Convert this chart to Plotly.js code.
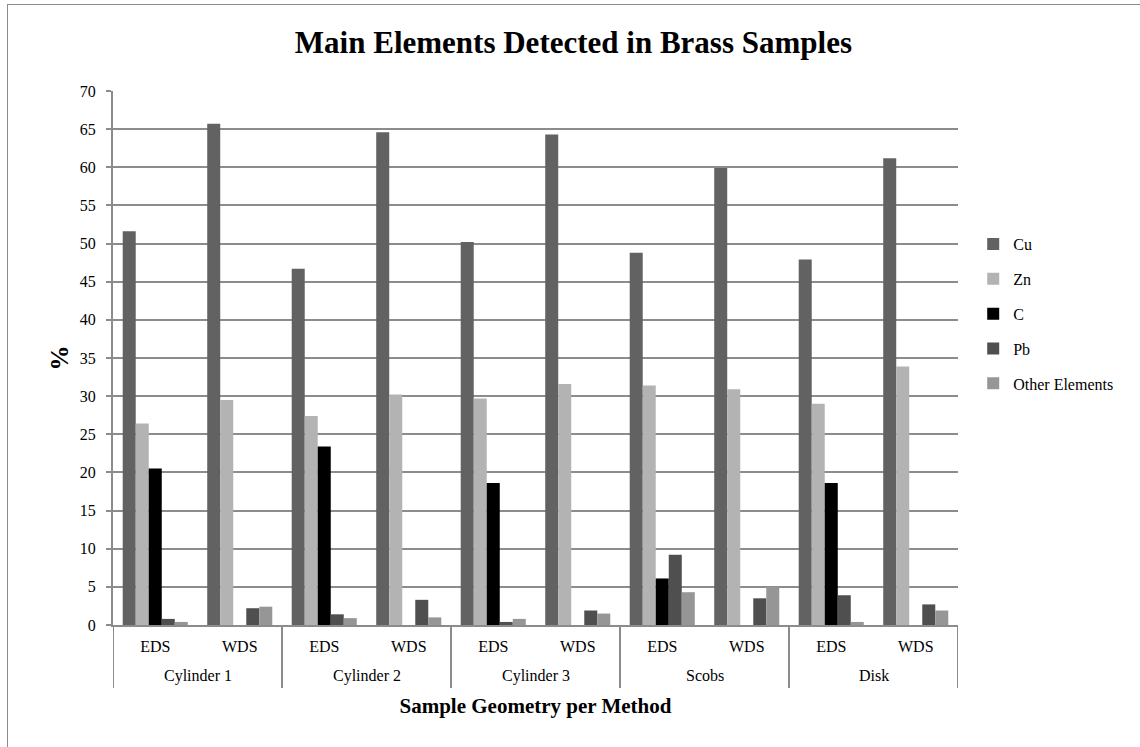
<!DOCTYPE html>
<html>
<head>
<meta charset="utf-8">
<script src="https://cdn.plot.ly/plotly-3.0.1.min.js"></script>
<style>
  html, body { margin: 0; padding: 0; background: #fff; }
  #frame { position: absolute; left: 7px; top: 4px; width: 1200px; height: 800px; border: 1px solid #8c8c8c; box-sizing: border-box; pointer-events: none; }
  #chart { position: absolute; left: 0; top: 0; width: 1140px; height: 747px; }
</style>
</head>
<body>
<div id="chart"></div>
<div id="frame"></div>
<script>
// Data
const groups = ["Cylinder 1", "Cylinder 2", "Cylinder 3", "Scobs", "Disk"];
const methods = ["EDS", "WDS"];
const seriesNames = ["Cu", "Zn", "C", "Pb", "Other Elements"];
// values in order: C1 EDS, C1 WDS, C2 EDS, C2 WDS, C3 EDS, C3 WDS, Scobs EDS, Scobs WDS, Disk EDS, Disk WDS
const cu    = [51.6, 65.7, 46.7, 64.6, 50.2, 64.3, 48.8, 59.9, 47.9, 61.2];
const zn    = [26.4, 29.5, 27.4, 30.2, 29.7, 31.6, 31.4, 30.9, 29.0, 33.9];
const c     = [20.5, 0,    23.4, 0,    18.6, 0,    6.1,  0,    18.6, 0];
const pb    = [0.8,  2.2,  1.4,  3.3,  0.4,  1.9,  9.2,  3.5,  3.9,  2.7];
const other = [0.4,  2.4,  0.9,  1.0,  0.8,  1.5,  4.3,  5.0,  0.4,  1.9];
const yTicks = [0, 5, 10, 15, 20, 25, 30, 35, 40, 45, 50, 55, 60, 65, 70];

const colors = ["#626262", "#b3b3b3", "#000000", "#4f4f4f", "#969696"];
const allValues = [cu, zn, c, pb, other];

// unique category keys, each shown with its method label
const xKeys = [], xLabels = [];
groups.forEach(g => methods.forEach(m => { xKeys.push(g + " | " + m); xLabels.push(m); }));

const serif = "'Liberation Serif', 'DejaVu Serif', serif";
const gridGray = "#8c8c8c";

const traces = seriesNames.map((name, i) => ({
  type: "bar",
  name: name,
  x: xKeys,
  y: allValues[i],
  legendgroup: "g" + i,
  marker: { color: colors[i], line: { width: 0 } },
  hoverinfo: "x+y+name"
}));

// group labels under the method labels, and dividers between groups
const annotations = groups.map((g, i) => ({
  text: g,
  xref: "x", x: i * methods.length + (methods.length - 1) / 2,
  yref: "paper", y: -0.0955, yanchor: "middle",
  showarrow: false,
  font: { family: serif, size: 16, color: "#000" }
}));
const shapes = [];
for (let i = 0; i <= groups.length; i++) {
  shapes.push({
    type: "line", xref: "x", yref: "paper",
    x0: i * methods.length - 0.5, x1: i * methods.length - 0.5,
    y0: 0, y1: -0.118,
    line: { color: gridGray, width: 2 }
  });
}

const layout = {
  width: 1140,
  height: 747,
  paper_bgcolor: "#ffffff",
  plot_bgcolor: "#ffffff",
  margin: { l: 113, r: 182, t: 91, b: 122 },
  barmode: "group",
  bargap: 0.23,
  bargroupgap: 0,
  title: {
    text: "<b>Main Elements Detected in Brass Samples</b>",
    font: { family: serif, size: 31, color: "#000" },
    x: 0.503, xref: "container", xanchor: "center", y: 0.944, yref: "container", yanchor: "middle"
  },
  font: { family: serif, size: 16, color: "#000" },
  xaxis: {
    type: "category",
    tickvals: xKeys,
    ticktext: xLabels,
    range: [-0.5, xKeys.length - 0.5],
    showgrid: false,
    showline: true,
    linecolor: gridGray,
    linewidth: 2,
    ticks: "",
    tickfont: { family: serif, size: 16, color: "#000" },
    ticklabelstandoff: 6,
    title: { text: "<b>Sample Geometry per Method</b>", font: { family: serif, size: 21, color: "#000" }, standoff: 44 }
  },
  yaxis: {
    range: [0, 70],
    tickvals: yTicks,
    ticktext: yTicks.map(String),
    showgrid: true,
    gridcolor: gridGray,
    gridwidth: 2,
    showline: true,
    linecolor: gridGray,
    linewidth: 2,
    ticks: "outside",
    ticklen: 5,
    tickwidth: 2,
    tickcolor: gridGray,
    zeroline: false,
    tickfont: { family: serif, size: 16, color: "#000" },
    ticklabelstandoff: 7,
    title: { text: "<b>%</b>", font: { family: serif, size: 25, color: "#000" }, standoff: 4 }
  },
  legend: {
    x: 1.018, xanchor: "left",
    y: 0.745, yanchor: "top",
    font: { family: serif, size: 16, color: "#000" },
    tracegroupgap: 11,
    itemwidth: 30,
    bgcolor: "rgba(0,0,0,0)"
  },
  annotations: annotations,
  shapes: shapes,
  showlegend: true
};

Plotly.newPlot("chart", traces, layout, { displayModeBar: false, responsive: false });
</script>
</body>
</html>
